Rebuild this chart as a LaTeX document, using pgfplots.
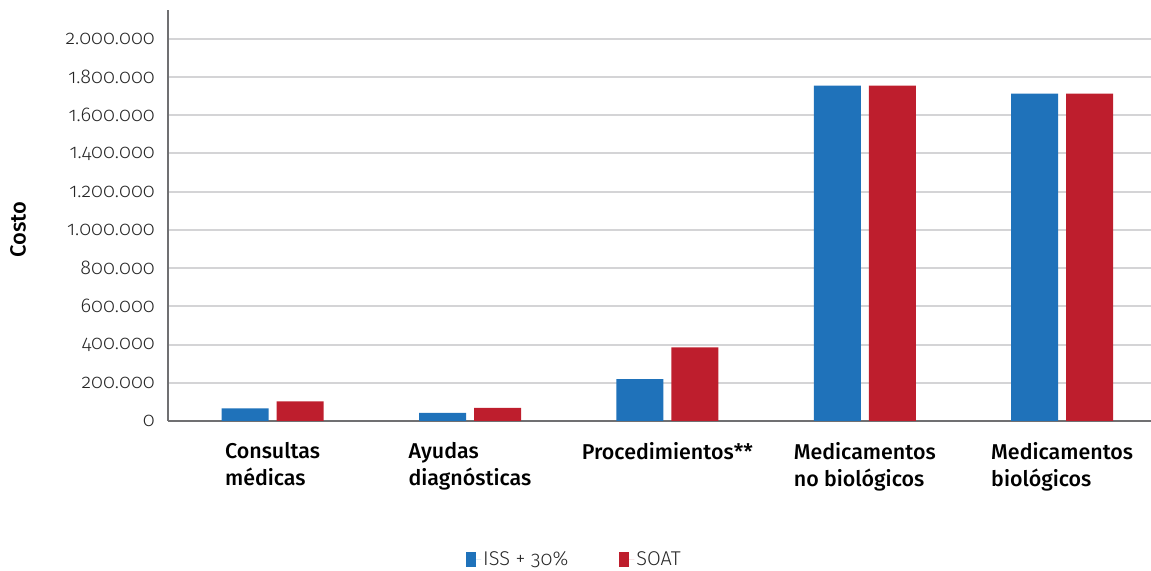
\documentclass[border=0pt]{standalone}
\usepackage{fontspec}
\setmainfont{Fira Sans}
\newfontfamily\lightfont[RawFeature={+onum}]{Fira Sans Light}
\newfontfamily\medfont{Fira Sans Medium}
\usepackage{pgfplots}
\pgfplotsset{compat=1.18}
\definecolor{issblue}{HTML}{1F72BA}
\definecolor{soatred}{HTML}{BE1E2D}
\definecolor{gridgray}{HTML}{D4D4D6}
\definecolor{axisgray}{HTML}{707072}
\begin{document}
\begin{tikzpicture}[x=1bp,y=1bp]
\path[use as bounding box] (0,0) rectangle (1151,571);
\begin{axis}[
  at={(168bp,150bp)}, anchor=south west,
  scale only axis, width=983bp, height=411bp,
  ybar=8bp, bar width=47bp,
  xmin=-0.53, xmax=4.45, ymin=0, ymax=2150000,
  xtick={0,1,2,3,4},
  xticklabels={{Consultas\\médicas},{Ayudas\\diagnósticas},{Procedimientos**},{Medicamentos\\no biológicos},{Medicamentos\\biológicos}},
  ytick={0,200000,400000,600000,800000,1000000,1200000,1400000,1600000,1800000,2000000},
  scaled y ticks=false,
  /pgf/number format/.cd, fixed, 1000 sep={.}, assume math mode=true, /pgfplots/.cd,
  yticklabel={\lightfont\fontsize{20}{24}\selectfont\pgfmathprintnumber{\tick}},
  ymajorgrids, grid style={gridgray, line width=2bp},
  axis x line*=bottom, axis y line*=left,
  axis line style={axisgray, line width=2bp},
  major tick length=0pt,
  yticklabel style={anchor=east, inner sep=0pt, xshift=-13bp, text=black!85},
  xticklabel style={font=\medfont\fontsize{21.5}{27}\selectfont, align=left, anchor=north, inner sep=0pt, yshift=-21bp},
  ylabel={Costo},
  ylabel style={font=\medfont\fontsize{22}{26}\selectfont, at={(axis description cs:-0.1526,0.465)}, anchor=center, rotate=0},
  legend style={at={(axis description cs:0.4135,-0.336)}, anchor=center, draw=none, legend columns=2,
    font=\lightfont\fontsize{20}{24}\selectfont, text=black!85,
    /tikz/every even column/.append style={column sep=49bp}},
  legend image code/.code={\fill[#1] (0bp,-7.5bp) rectangle (10bp,7.5bp); \path (0bp,0bp) -- (15bp,0bp);},
]
\addplot[fill=issblue, draw=none] coordinates {(0,66000) (1,42000) (2,219000) (3,1754000) (4,1712000)};
\addplot[fill=soatred, draw=none] coordinates {(0,103000) (1,68000) (2,385000) (3,1754000) (4,1712000)};
\legend{ISS + 30\%, SOAT}
\end{axis}
\end{tikzpicture}
\end{document}
